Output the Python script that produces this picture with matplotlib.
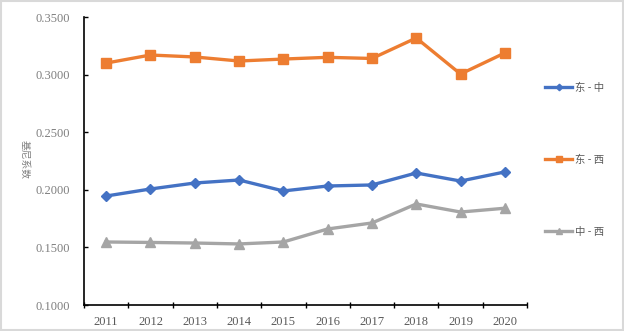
import matplotlib.pyplot as plt
from matplotlib.patches import Rectangle

plt.rcParams['font.family'] = ['Liberation Serif', 'Noto Sans CJK SC', 'DejaVu Sans']

# datos
years = ['2011', '2012', '2013', '2014', '2015', '2016', '2017', '2018', '2019', '2020']
dong_zhong = [0.1946, 0.2007, 0.2059, 0.2085, 0.1990, 0.2033, 0.2042, 0.2146, 0.2076, 0.2155]
dong_xi = [0.3100, 0.3170, 0.3153, 0.3118, 0.3135, 0.3150, 0.3140, 0.3318, 0.3005, 0.3188]
zhong_xi = [0.1547, 0.1543, 0.1538, 0.1530, 0.1547, 0.1660, 0.1712, 0.1877, 0.1807, 0.1840]
yticks = [0.10, 0.15, 0.20, 0.25, 0.30, 0.35]

fig = plt.figure(figsize=(6.24, 3.31), dpi=100)
ax = fig.add_axes([84/624, 1-305/331, (527-84)/624, (305-17)/331])

x = list(range(len(years)))
l1, = ax.plot(x, dong_zhong, color='#4472C4', linewidth=2.4, marker='D', markersize=5.5, label='东 - 中')
l2, = ax.plot(x, dong_xi, color='#ED7D31', linewidth=2.4, marker='s', markersize=7, label='东 - 西')
l3, = ax.plot(x, zhong_xi, color='#A5A5A5', linewidth=2.4, marker='^', markersize=7.5, label='中 - 西')

ax.set_xlim(-0.5, len(years) - 0.5)
ax.set_ylim(0.10, 0.35)
ax.set_yticks(yticks)
ax.set_yticklabels(['%.4f' % v for v in yticks], fontsize=9, color='#7F7F7F')
ax.set_xticks([i - 0.5 for i in range(len(years) + 1)], minor=False)
ax.set_xticklabels([])
ax.set_xticks(x, minor=True)
ax.set_xticklabels(years, minor=True, fontsize=9, color='#595959')
ax.tick_params(axis='x', which='minor', length=0, pad=8)
ax.tick_params(axis='x', which='major', direction='inout', length=4, width=1, colors='black')
ax.tick_params(axis='y', direction='in', length=3, width=1, pad=10)

for s in ['top', 'right']:
    ax.spines[s].set_visible(False)
ax.spines['left'].set_linewidth(1.2)
ax.spines['bottom'].set_linewidth(1.2)

fig.text(25/624, 1-160/331, '基尼系数', fontsize=7, color='#7F7F7F', rotation=-90,
         ha='center', va='center', family=['Noto Sans CJK SC'])

# leyenda
for y, h, lab in [(88, l1, '东 - 中'), (160, l2, '东 - 西'), (232, l3, '中 - 西')]:
    fig.legend([h], [lab], loc='center left', bbox_to_anchor=(536/624, 1-y/331), frameon=False,
               prop={'family': ['Noto Sans CJK SC'], 'size': 7.5}, handlelength=2.6, handletextpad=0.2,
               markerscale=0.6, labelcolor='#595959')

# marco
fig.patches.append(Rectangle((0.002, 0.003), 0.996, 0.994, transform=fig.transFigure,
                             fill=False, edgecolor='#D9D9D9', linewidth=1.5))

fig.savefig('out.png', dpi=100)
